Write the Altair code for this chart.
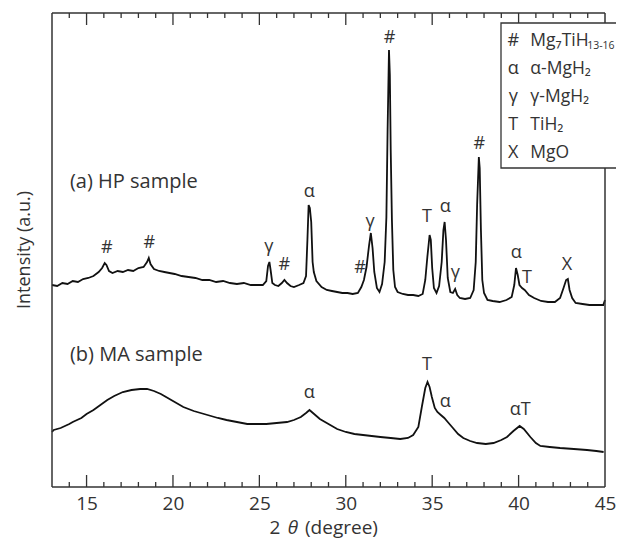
import altair as alt
import pandas as pd

# ---- data ----
hp_theta = [13.0, 13.3, 13.6, 13.9, 14.2, 14.5, 14.8, 15.1, 15.4, 15.7, 15.9, 16.05, 16.15, 16.3, 16.5,
            16.8, 17.1, 17.4, 17.7, 18.0, 18.3, 18.5, 18.6, 18.7, 18.9, 19.2, 19.5, 19.8, 20.1, 20.5,
            20.9, 21.3, 21.7, 22.1, 22.5, 22.9, 23.3, 23.7, 24.1, 24.5, 24.9, 25.2, 25.4, 25.5, 25.58,
            25.65, 25.75, 25.9, 26.1, 26.3, 26.45, 26.6, 26.8, 27.0, 27.3, 27.55, 27.7, 27.78, 27.85,
            27.92, 28.0, 28.08, 28.15, 28.3, 28.6, 28.9, 29.2, 29.5, 29.8, 30.1, 30.4, 30.7, 30.9,
            31.05, 31.2, 31.35, 31.45, 31.55, 31.65, 31.8, 31.95, 32.1, 32.25, 32.35, 32.42, 32.5,
            32.55, 32.6, 32.67, 32.75, 32.85, 33.0, 33.3, 33.6, 33.9, 34.2, 34.45, 34.6, 34.72, 34.85,
            34.92, 35.0, 35.1, 35.25, 35.4, 35.55, 35.65, 35.72, 35.8, 35.9, 36.05, 36.2, 36.33, 36.45,
            36.6, 36.9, 37.2, 37.4, 37.52, 37.6, 37.7, 37.75, 37.82, 37.9, 38.0, 38.2, 38.5, 38.9,
            39.3, 39.6, 39.75, 39.85, 39.95, 40.05, 40.2, 40.35, 40.6, 40.9, 41.3, 41.7, 42.1, 42.4,
            42.6, 42.75, 42.85, 42.95, 43.1, 43.3, 43.7, 44.1, 44.5, 44.9, 45.0]
hp_int = [202, 201, 204, 203, 206, 205, 208, 209, 211, 215, 219, 224, 222, 216, 214,
          216, 215, 217, 216, 219, 220, 225, 229, 223, 218, 216, 215, 214, 213, 211,
          210, 209, 207, 207, 205, 206, 204, 203, 204, 202, 202, 202, 206, 221, 225,
          217, 204, 202, 201, 204, 207, 204, 201, 200, 202, 204, 211, 247, 282,
          279, 265, 225, 215, 206, 200, 197, 196, 195, 194, 194, 193, 194, 200,
          207, 220, 242, 254, 239, 215, 199, 195, 203, 225, 270, 357, 437,
          412, 337, 267, 217, 200, 195, 193, 192, 192, 191, 193, 207, 230, 252,
          247, 219, 199, 194, 201, 225, 257, 265, 247, 209, 195, 194, 198, 192,
          189, 188, 189, 197, 225, 282, 330, 319, 257, 207, 194, 187, 186, 185,
          187, 190, 202, 219, 212, 202, 199, 197, 192, 189, 186, 185, 185, 189,
          199, 207, 208, 197, 189, 184, 183, 182, 182, 182, 187]

ma_theta = [13.0, 13.1, 13.5, 14.0, 14.2, 14.7, 15.0, 15.4, 15.8, 16.2, 16.6, 17.1, 17.6, 18.1, 18.5,
            18.9, 19.3, 19.6, 20.0, 20.6, 21.2, 22.0, 22.6, 23.1, 23.7, 24.3, 24.9, 25.4, 26.0, 26.6,
            27.0, 27.4, 27.7, 27.9, 28.1, 28.5, 29.1, 29.5, 30.0, 30.5, 31.0, 31.5, 32.0, 32.6, 33.15,
            33.6, 33.9, 34.2, 34.4, 34.6, 34.73, 34.85, 34.98, 35.15, 35.3, 35.5, 35.7, 35.9, 36.15,
            36.5, 36.8, 37.2, 37.6, 38.1, 38.55, 39.0, 39.33, 39.7, 40.06, 40.3, 40.68, 41.0, 41.26,
            41.8, 42.4, 43.2, 43.96, 44.5, 44.92]
ma_int = [55, 57, 59, 63, 65, 69, 73, 77, 82, 87, 91, 95, 97, 98, 98,
          96, 93, 90, 86, 80, 76, 72, 69, 67, 65, 63, 63, 63, 64, 65,
          67, 70, 74, 77, 74, 68, 62, 58, 55, 53, 52, 51, 50, 49, 48,
          49, 52, 60, 80, 99, 105, 100, 90, 79, 75, 72, 69, 65, 60,
          53, 49, 46, 44, 43, 44, 47, 50, 56, 61, 58, 50, 44, 41,
          40, 39, 38, 37, 36, 35]

peak_theta = [16.17, 18.63, 25.55, 26.45, 27.88, 30.83, 31.41, 32.53, 34.70, 35.76, 36.34, 37.72,
              39.87, 40.49, 42.80, 27.88, 34.70, 35.75, 40.10]
peak_int = [239, 244, 240, 222, 295, 219, 265, 449, 270, 280, 214, 343,
            234, 209, 222, 94, 122, 85, 77]
peak_text = ["#", "#", "γ", "#", "α", "#", "γ", "#", "T", "α", "γ", "#",
             "α", "T", "X", "α", "T", "α", "αT"]

sample_text = ["(a) HP sample", "(b) MA sample"]
sample_theta = [14.04, 14.04]
sample_int = [299, 126]

legend_sym = ["#", "α", "γ", "T", "X"]
legend_name = ["Mg₇TiH", "α-MgH₂", "γ-MgH₂", "TiH₂", "MgO"]
legend_sub = "13-16"

major_ticks = [15, 20, 25, 30, 35, 40]
minor_ticks = [14, 16, 17, 18, 19, 21, 22, 23, 24, 26, 27, 28, 29, 31, 32, 33, 34,
               36, 37, 38, 39, 41, 42, 43, 44]

FONT = "Open Sans"
TXT = "#333333"
W, H = 553, 474
XDOM = [13, 45]

x_enc = alt.X("theta:Q",
              scale=alt.Scale(domain=XDOM, nice=False, zero=False),
              axis=alt.Axis(values=[15, 20, 25, 30, 35, 40, 45], ticks=False, domain=False,
                            grid=False, title=None, labelFont=FONT, labelFontSize=19,
                            labelColor=TXT, labelPadding=7, labelFlush=False))
y_enc = alt.Y("intensity:Q", scale=alt.Scale(domain=[0, H], nice=False, zero=False), axis=None)

hp_df = pd.DataFrame({"theta": hp_theta, "intensity": hp_int})
ma_df = pd.DataFrame({"theta": ma_theta, "intensity": ma_int})
peak_df = pd.DataFrame({"theta": peak_theta, "intensity": peak_int, "label": peak_text})
sample_df = pd.DataFrame({"theta": sample_theta, "intensity": sample_int, "label": sample_text})
major_df = pd.DataFrame({"theta": major_ticks})
minor_df = pd.DataFrame({"theta": minor_ticks})
one = pd.DataFrame({"k": [0]})

n = len(legend_sym)
row_int = [446 - 28 * i for i in range(n)]
leg_sym_df = pd.DataFrame({"sym": legend_sym, "intensity": row_int, "theta": [39.69] * n})
leg_name_df = pd.DataFrame({"name": legend_name, "intensity": row_int, "theta": [40.68] * n})
leg_sub_df = pd.DataFrame({"name": [legend_sub], "intensity": [row_int[0] - 8], "theta": [43.97]})

hp_line = alt.Chart(hp_df).mark_line(color="#111111", strokeWidth=1.8).encode(x=x_enc, y=y_enc)
ma_line = alt.Chart(ma_df).mark_line(color="#111111", strokeWidth=1.8).encode(x=x_enc, y=y_enc)

peaks = alt.Chart(peak_df).mark_text(font=FONT, fontSize=18, color=TXT, baseline="middle").encode(
    x=x_enc, y=y_enc, text="label:N")
samples = alt.Chart(sample_df).mark_text(font=FONT, fontSize=20, color=TXT, align="left",
                                         baseline="alphabetic").encode(x=x_enc, y=y_enc, text="label:N")

tick_col = "#333333"
top_major = alt.Chart(major_df).mark_rule(color=tick_col, strokeWidth=1.3).encode(
    x=x_enc, y=alt.value(0), y2=alt.value(12))
top_minor = alt.Chart(minor_df).mark_rule(color=tick_col, strokeWidth=1.3).encode(
    x=x_enc, y=alt.value(0), y2=alt.value(5))
bot_major = alt.Chart(major_df).mark_rule(color=tick_col, strokeWidth=1.3).encode(
    x=x_enc, y=alt.value(H), y2=alt.value(H - 12))
bot_minor = alt.Chart(minor_df).mark_rule(color=tick_col, strokeWidth=1.3).encode(
    x=x_enc, y=alt.value(H), y2=alt.value(H - 5))

frame_top = alt.Chart(one).mark_rule(color=tick_col, strokeWidth=1.5).encode(
    x=alt.value(0), x2=alt.value(W), y=alt.value(0))
frame_bot = alt.Chart(one).mark_rule(color=tick_col, strokeWidth=1.5).encode(
    x=alt.value(0), x2=alt.value(W), y=alt.value(H))
frame_left = alt.Chart(one).mark_rule(color=tick_col, strokeWidth=1.5).encode(
    x=alt.value(0), y=alt.value(0), y2=alt.value(H))
frame_right = alt.Chart(one).mark_rule(color=tick_col, strokeWidth=1.5).encode(
    x=alt.value(W), y=alt.value(0), y2=alt.value(H))

leg_box = alt.Chart(one).mark_rect(fill="white", stroke=tick_col, strokeWidth=1.3).encode(
    x=alt.value(449), x2=alt.value(660), y=alt.value(10), y2=alt.value(155))
leg_sym = alt.Chart(leg_sym_df).mark_text(font=FONT, fontSize=18, color=TXT, baseline="middle").encode(
    x=x_enc, y=y_enc, text="sym:N")
leg_name = alt.Chart(leg_name_df).mark_text(font=FONT, fontSize=17.5, color=TXT, align="left",
                                            baseline="middle").encode(x=x_enc, y=y_enc, text="name:N")
leg_sub = alt.Chart(leg_sub_df).mark_text(font=FONT, fontSize=10.5, color=TXT, align="left",
                                          baseline="alphabetic").encode(x=x_enc, y=y_enc, text="name:N")

TY = 521
t_two = alt.Chart(one).mark_text(font=FONT, fontSize=19, color=TXT, baseline="alphabetic").encode(
    x=alt.value(223), y=alt.value(TY), text=alt.value("2"))
t_theta = alt.Chart(one).mark_text(font=FONT, fontSize=19, color=TXT, fontStyle="italic",
                                   baseline="alphabetic").encode(
    x=alt.value(241), y=alt.value(TY), text=alt.value("θ"))
t_deg = alt.Chart(one).mark_text(font=FONT, fontSize=19, color=TXT, align="left",
                                 baseline="alphabetic").encode(
    x=alt.value(253), y=alt.value(TY), text=alt.value("(degree)"))
y_title = alt.Chart(one).mark_text(font=FONT, fontSize=18, color=TXT, angle=270,
                                   baseline="middle").encode(
    x=alt.value(-27), y=alt.value(237), text=alt.value("Intensity (a.u.)"))

chart = alt.layer(
    hp_line, ma_line, peaks, samples,
    top_major, top_minor, bot_major, bot_minor,
    frame_top, frame_bot, frame_left, frame_right,
    leg_box, leg_sym, leg_name, leg_sub,
    t_two, t_theta, t_deg, y_title,
).properties(
    width=W, height=H,
    padding={"left": 44, "top": 5, "right": 11, "bottom": 53},
    autosize=alt.AutoSizeParams(type="none"),
    background="white",
).configure_view(stroke=None)

chart.save("out.html", embed_options={"renderer": "svg", "actions": False})
